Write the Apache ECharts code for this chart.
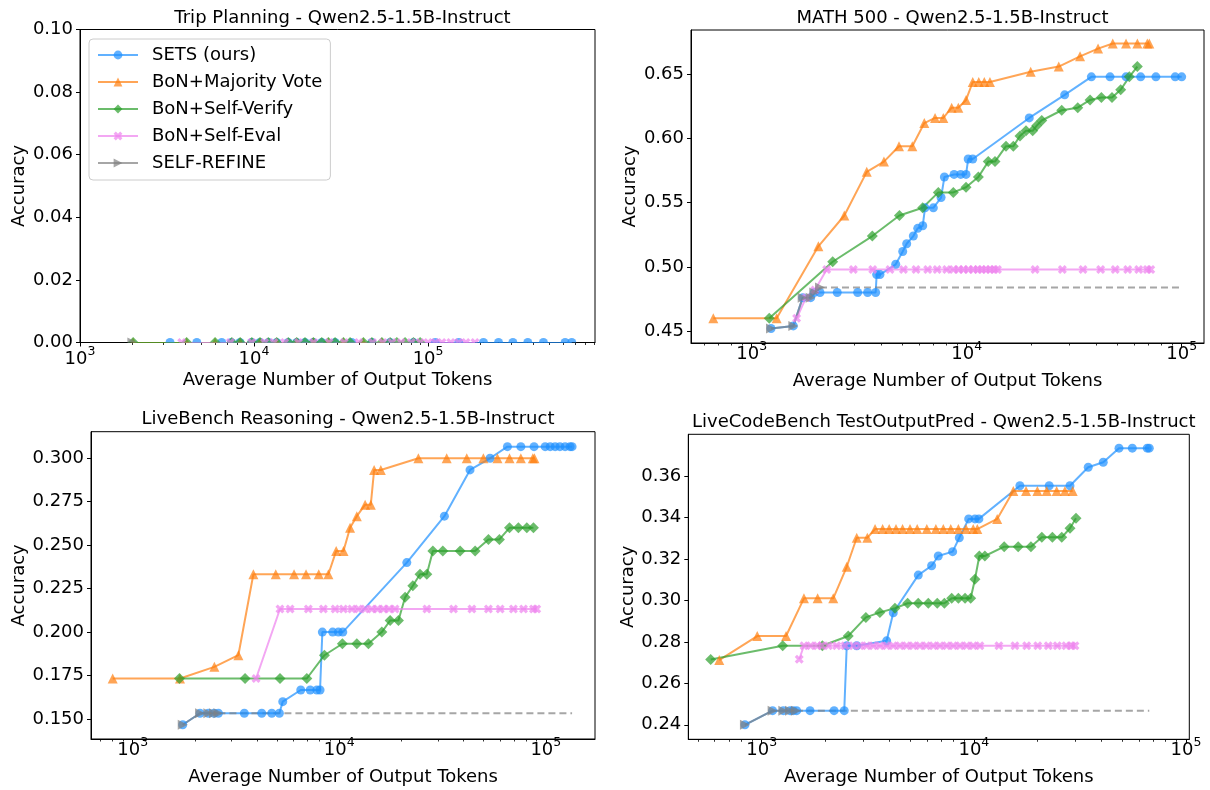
<!DOCTYPE html>
<html><head><meta charset="utf-8">
<script src="https://cdn.jsdelivr.net/npm/echarts@6/dist/echarts.min.js"></script>
<style>html,body{margin:0;padding:0;background:#fff}#c{width:1210px;height:790px}</style>
</head><body><div id="c"></div>
<script>
// ---------------- DATA ----------------
const seriesNames = ['SETS (ours)', 'BoN+Majority Vote', 'BoN+Self-Verify', 'BoN+Self-Eval', 'SELF-REFINE'];
const panelTitles = [
  'Trip Planning - Qwen2.5-1.5B-Instruct',
  'MATH 500 - Qwen2.5-1.5B-Instruct',
  'LiveBench Reasoning - Qwen2.5-1.5B-Instruct',
  'LiveCodeBench TestOutputPred - Qwen2.5-1.5B-Instruct'
];
const xAxisTitle = 'Average Number of Output Tokens';
const yAxisTitle = 'Accuracy';
const xTickValues = [1000, 10000, 100000];
const tripYTicks = [0, 0.02, 0.04, 0.06, 0.08, 0.10];
const mathYTicks = [0.45, 0.50, 0.55, 0.60, 0.65];
const lbYTicks = [0.150, 0.175, 0.200, 0.225, 0.250, 0.275, 0.300];
const lcbYTicks = [0.24, 0.26, 0.28, 0.30, 0.32, 0.34, 0.36];

// Trip Planning (all accuracies are 0)
const trip_sets = [[3290,0],[4690,0],[6520,0],[7400,0],[8300,0],[9700,0],[10800,0],[12100,0],[13500,0],[15700,0],[17600,0],[19600,0],[21900,0],[24500,0],[29200,0],[36400,0],[47500,0],[60500,0],[82400,0],[110000,0],[150000,0],[208000,0],[254000,0],[307000,0],[374000,0],[460000,0],[613000,0],[669000,0]];
const trip_majority = [[2020,0],[4100,0],[5970,0],[8320,0],[10820,0],[13490,0],[17580,0],[21920,0],[26740,0],[32630,0],[42500,0],[54250,0]];
const trip_verify = [[2020,0],[4100,0],[5970,0],[7450,0],[8320,0],[9710,0],[10820,0],[12080,0],[13490,0],[15730,0],[17580,0],[19630,0],[21920,0],[24490,0],[26740,0],[29220,0],[32630,0],[35620,0],[42500,0],[47520,0],[54250,0],[60540,0],[66120,0],[73760,0],[82400,0],[90000,0]];
const trip_eval = [[3840,0],[7300,0],[9700,0],[11500,0],[13000,0],[15000,0],[18000,0],[22000,0],[27000,0],[33000,0],[40000,0],[48000,0],[55000,0],[62000,0],[70000,0],[80000,0],[90000,0],[100000,0],[110000,0],[120000,0],[135000,0],[150000,0],[165000,0],[186000,0]];
const trip_refine = [[2000,0]];

// MATH 500
const math_sets = [[1230,0.452],[1562,0.454],[1727,0.476],[1880,0.476],[1954,0.480],[2078,0.480],[2500,0.480],[3111,0.480],[3461,0.480],[3772,0.480],[3813,0.494],[3950,0.494],[4677,0.502],[5040,0.512],[5260,0.518],[5647,0.524],[5919,0.530],[6245,0.532],[6400,0.546],[6997,0.546],[7600,0.554],[7876,0.570],[8737,0.572],[9380,0.572],[9932,0.572],[10160,0.584],[10670,0.584],[19540,0.616],[28560,0.634],[38010,0.648],[46430,0.648],[55100,0.648],[64440,0.648],[75880,0.648],[93300,0.648],[100000,0.648]];
const math_majority = [[663,0.460],[1306,0.460],[2042,0.516],[2697,0.540],[3429,0.574],[4123,0.582],[4842,0.594],[5585,0.594],[6353,0.612],[7126,0.616],[7787,0.616],[8513,0.624],[9143,0.624],[9932,0.630],[10670,0.644],[11380,0.644],[12080,0.644],[12830,0.644],[19850,0.652],[26800,0.656],[33670,0.664],[40830,0.670],[47800,0.674],[55100,0.674],[62200,0.674],[69200,0.674],[70700,0.674]];
const math_verify = [[1207,0.460],[2381,0.504],[3640,0.524],[4865,0.540],[6240,0.546],[7380,0.558],[8667,0.558],[9930,0.562],[11330,0.570],[12600,0.582],[13540,0.582],[15240,0.594],[16480,0.594],[17700,0.602],[18870,0.606],[20280,0.606],[21170,0.610],[22340,0.614],[27670,0.622],[32850,0.624],[37490,0.630],[42300,0.632],[47420,0.632],[52040,0.638],[57060,0.648],[62190,0.656]];
const math_eval = [[1618,0.460],[1790,0.476],[1968,0.482],[2233,0.498],[2970,0.498],[3656,0.498],[4398,0.498],[5080,0.498],[5810,0.498],[6590,0.498],[7290,0.498],[8070,0.498],[8670,0.498],[9180,0.498],[9660,0.498],[10180,0.498],[10740,0.498],[11270,0.498],[11750,0.498],[12300,0.498],[12850,0.498],[13400,0.498],[13900,0.498],[20800,0.498],[27860,0.498],[34750,0.498],[41980,0.498],[49090,0.498],[56100,0.498],[63100,0.498],[69200,0.498],[71800,0.498]];
const math_refine = [[1230,0.452],[1562,0.454],[1727,0.476],[1880,0.476],[1954,0.480],[2078,0.484]];

// LiveBench Reasoning
const lb_sets = [[1746,0.1467],[2118,0.1533],[2324,0.1533],[2476,0.1533],[2599,0.1533],[3470,0.1533],[4213,0.1533],[4711,0.1533],[5128,0.1533],[5325,0.1600],[6510,0.1667],[7230,0.1667],[7790,0.1667],[8070,0.1667],[8280,0.2000],[9290,0.2000],[9900,0.2000],[10400,0.2000],[21230,0.2400],[32280,0.2667],[42950,0.2933],[53700,0.3000],[65160,0.3067],[75690,0.3067],[87700,0.3067],[99300,0.3067],[105000,0.3067],[111000,0.3067],[117000,0.3067],[124000,0.3067],[131000,0.3067],[134000,0.3067]];
const lb_majority = [[800,0.1733],[1694,0.1733],[2484,0.1800],[3246,0.1867],[3838,0.2333],[4925,0.2333],[6040,0.2333],[6903,0.2333],[7954,0.2333],[8858,0.2333],[9660,0.2467],[10480,0.2467],[11280,0.2600],[12160,0.2667],[13340,0.2733],[14210,0.2733],[14750,0.2933],[15890,0.2933],[24150,0.3000],[33120,0.3000],[41400,0.3000],[49860,0.3000],[58300,0.3000],[66680,0.3000],[75690,0.3000],[86500,0.3000],[88100,0.3000]];
const lb_verify = [[1683,0.1733],[3499,0.1733],[5163,0.1733],[6965,0.1733],[8475,0.1867],[10350,0.1933],[12160,0.1933],[13840,0.1933],[16070,0.2000],[17630,0.2067],[19340,0.2067],[20830,0.2200],[22700,0.2267],[24600,0.2333],[26530,0.2333],[28380,0.2467],[31710,0.2467],[38460,0.2467],[45480,0.2467],[52740,0.2533],[59600,0.2533],[66680,0.2600],[73650,0.2600],[80900,0.2600],[87100,0.2600]];
const lb_eval = [[3955,0.1733],[5163,0.2133],[5780,0.2133],[7080,0.2133],[8375,0.2133],[9550,0.2133],[10470,0.2133],[11510,0.2133],[12390,0.2133],[13340,0.2133],[14350,0.2133],[15310,0.2133],[16370,0.2133],[17420,0.2133],[18620,0.2133],[26550,0.2133],[35730,0.2133],[43850,0.2133],[52720,0.2133],[60120,0.2133],[69660,0.2133],[77980,0.2133],[87100,0.2133],[90360,0.2133]];
const lb_refine = [[1746,0.1467],[2118,0.1533],[2324,0.1533],[2476,0.1533],[2599,0.1533]];

// LiveCodeBench TestOutputPred
const lcb_sets = [[834,0.2400],[1126,0.2468],[1265,0.2468],[1360,0.2468],[1408,0.2468],[1462,0.2468],[1690,0.2468],[2194,0.2468],[2450,0.2468],[2517,0.2781],[2806,0.2781],[3882,0.2805],[4170,0.2940],[5470,0.3122],[6324,0.3167],[6797,0.3214],[7944,0.3235],[8537,0.3302],[9453,0.3393],[10120,0.3393],[10560,0.3393],[16480,0.3553],[22650,0.3553],[28380,0.3553],[34590,0.3642],[40720,0.3666],[48310,0.3734],[55820,0.3734],[65620,0.3734],[67100,0.3734]];
const lcb_majority = [[631,0.2712],[953,0.2828],[1303,0.2828],[1582,0.3010],[1835,0.3010],[2175,0.3010],[2517,0.3162],[2805,0.3302],[3147,0.3302],[3422,0.3344],[3715,0.3344],[3990,0.3344],[4295,0.3344],[4613,0.3344],[5000,0.3344],[5408,0.3344],[6000,0.3344],[6622,0.3344],[7178,0.3344],[7780,0.3344],[8453,0.3344],[9183,0.3344],[9931,0.3344],[10380,0.3344],[12880,0.3393],[15340,0.3528],[17620,0.3528],[19920,0.3528],[22040,0.3528],[24560,0.3528],[26860,0.3528],[29220,0.3528]];
const lcb_verify = [[575,0.2715],[1256,0.2781],[1932,0.2781],[2559,0.2828],[3098,0.2918],[3607,0.2942],[4246,0.2962],[4875,0.2986],[5470,0.2986],[6100,0.2986],[6722,0.2986],[7260,0.2986],[7860,0.3010],[8453,0.3010],[9087,0.3010],[9662,0.3010],[10120,0.3102],[10610,0.3214],[11270,0.3214],[13900,0.3259],[16180,0.3259],[18580,0.3259],[20900,0.3304],[23450,0.3304],[25960,0.3304],[28380,0.3348],[30290,0.3396]];
const lcb_eval = [[1503,0.2716],[1582,0.2781],[1702,0.2781],[1829,0.2781],[1918,0.2781],[2061,0.2781],[2256,0.2781],[2470,0.2781],[2703,0.2781],[2905,0.2781],[3124,0.2781],[3358,0.2781],[3609,0.2781],[3879,0.2781],[4169,0.2781],[4483,0.2781],[4818,0.2781],[5177,0.2781],[5566,0.2781],[5975,0.2781],[6442,0.2781],[6918,0.2781],[7445,0.2781],[8000,0.2781],[8604,0.2781],[9247,0.2781],[9937,0.2781],[10680,0.2781],[13120,0.2781],[15620,0.2781],[17740,0.2781],[20000,0.2781],[22430,0.2781],[24730,0.2781],[27190,0.2781],[28900,0.2781],[29950,0.2781]];
const lcb_refine = [[834,0.2400],[1126,0.2468],[1265,0.2468],[1360,0.2468],[1449,0.2468]];

// ---------------- LAYOUT / STYLE ----------------
const FONT = 'DejaVu Sans';
const COLORS = ['#1E90FF', '#FF7F0E', '#2CA02C', '#EE82EE', '#808080'];
const XPATH = 'path://M0,2.5L2.5,0L5,2.5L7.5,0L10,2.5L7.5,5L10,7.5L7.5,10L5,7.5L2.5,10L0,7.5L2.5,5Z';
const SYMBOLS = ['circle', 'triangle', 'diamond', XPATH, 'triangle'];
const SYM_SIZE = [9, 10, 11, 9, 10];
const SYM_ROT = [0, 0, 0, 0, -90];
// Upper halves of the markers (points lying on the bottom edge are clipped by the axes box)
const HALF_SYMBOLS = [
  'path://M0,10A10,10,0,0,1,20,10Z',
  'path://M5,0L10,10L0,10Z',
  'path://M5,0L10,10L0,10Z',
  'path://M0,2.5L2.5,0L5,2.5L7.5,0L10,2.5L7.5,5L2.5,5Z',
  'path://M0,0L10,5L0,5Z'
];
const HALF_SIZE = [[9, 4.5], [5, 5], [11, 5.5], [9, 4.5], [10, 5]];

const panels = [
  { grid: {left: 80, top: 29.5, width: 515, height: 313}, xMin: 1000, xMax: 910000,
    yMin: 0, yMax: 0.1, yTicks: tripYTicks, yDec: 2, yNameGap: 52, titleTop: 4, labelMargin: 8,
    data: [trip_sets, trip_majority, trip_verify, trip_eval, trip_refine], dashed: false, half: true },
  { grid: {left: 691, top: 30, width: 513, height: 313}, xMin: 522, xMax: 127000,
    yMin: 0.4407, yMax: 0.6845, yTicks: mathYTicks, yDec: 2, yNameGap: 52, titleTop: 4, labelMargin: 2,
    data: [math_sets, math_majority, math_verify, math_eval, math_refine], dashed: true },
  { grid: {left: 91, top: 431.7, width: 504, height: 307.3}, xMin: 628, xMax: 173000,
    yMin: 0.1385, yMax: 0.3153, yTicks: lbYTicks, yDec: 3, yNameGap: 63, titleTop: 405, labelMargin: 2,
    data: [lb_sets, lb_majority, lb_verify, lb_eval, lb_refine], dashed: true },
  { grid: {left: 688.3, top: 434.3, width: 501, height: 305}, xMin: 451, xMax: 103600,
    yMin: 0.2330, yMax: 0.3801, yTicks: lcbYTicks, yDec: 2, yNameGap: 50, titleTop: 408, labelMargin: 2,
    data: [lcb_sets, lcb_majority, lcb_verify, lcb_eval, lcb_refine], dashed: true }
];

function minorTicks(min, max) {
  const out = [];
  for (let e = Math.floor(Math.log10(min)); e <= Math.ceil(Math.log10(max)); e++) {
    for (let k = 2; k <= 9; k++) {
      const v = k * Math.pow(10, e);
      if (v >= min && v <= max) out.push(v);
    }
  }
  return out;
}

const textBase = {fontFamily: FONT, color: '#000'};
const grids = [], xAxes = [], yAxes = [], titles = [];
const seriesMain = [], seriesLast = [];

panels.forEach((p, i) => {
  grids.push(Object.assign({show: true, borderColor: '#000', borderWidth: 1, containLabel: false}, p.grid));
  titles.push({
    text: panelTitles[i], left: p.grid.left + p.grid.width / 2, top: p.titleTop, textAlign: 'center',
    textStyle: Object.assign({fontSize: 18, fontWeight: 'normal'}, textBase)
  });
  xAxes.push({
    type: 'log', logBase: 10, gridIndex: i, min: p.xMin, max: p.xMax, position: 'bottom',
    axisLine: {show: true, onZero: false, lineStyle: {color: '#000', width: 1}},
    axisTick: {show: true, length: 4, customValues: xTickValues, lineStyle: {color: '#000', width: 1}},
    axisLabel: {
      customValues: xTickValues, margin: p.labelMargin, hideOverlap: false,
      formatter: v => '{b|10}{s|' + Math.round(Math.log10(v)) + '}',
      rich: {
        b: Object.assign({fontSize: 18, lineHeight: 18, verticalAlign: 'bottom'}, textBase),
        s: Object.assign({fontSize: 12.5, lineHeight: 12, padding: [0, 0, 10, 0], verticalAlign: 'bottom'}, textBase)
      }
    },
    splitLine: {show: false},
    name: xAxisTitle, nameLocation: 'middle', nameGap: 29,
    nameTextStyle: Object.assign({fontSize: 18, verticalAlign: 'top'}, textBase)
  });
  xAxes.push({
    type: 'log', logBase: 10, gridIndex: i, min: p.xMin, max: p.xMax, position: 'bottom',
    axisLine: {show: false, onZero: false},
    axisTick: {show: true, length: 2.5, customValues: minorTicks(p.xMin, p.xMax), lineStyle: {color: '#000', width: 0.8}},
    axisLabel: {show: false},
    splitLine: {show: false}
  });
  yAxes.push({
    type: 'value', gridIndex: i, min: p.yMin, max: p.yMax,
    axisLine: {show: true, onZero: false, lineStyle: {color: '#000', width: 1}},
    axisTick: {show: true, length: 4, customValues: p.yTicks, lineStyle: {color: '#000', width: 1}},
    axisLabel: Object.assign({customValues: p.yTicks, margin: 7, fontSize: 18, hideOverlap: false,
      formatter: v => v.toFixed(p.yDec)}, textBase),
    splitLine: {show: false},
    name: yAxisTitle, nameLocation: 'middle', nameGap: p.yNameGap,
    nameTextStyle: Object.assign({fontSize: 18}, textBase)
  });
  const target = p.half ? seriesLast : seriesMain;
  p.data.forEach((d, s) => {
    target.push({
      type: 'line', name: seriesNames[s], xAxisIndex: 2 * i, yAxisIndex: i, data: d,
      symbol: p.half ? HALF_SYMBOLS[s] : SYMBOLS[s],
      symbolSize: p.half ? HALF_SIZE[s] : SYM_SIZE[s],
      symbolOffset: p.half ? [0, -HALF_SIZE[s][1] / 2] : [0, 0],
      symbolRotate: p.half ? 0 : SYM_ROT[s], showSymbol: true,
      lineStyle: {color: COLORS[s], width: p.half ? 1 : 2, opacity: 0.7},
      itemStyle: {color: COLORS[s], opacity: 0.7, borderWidth: 0},
      emphasis: {disabled: true}, silent: true, animation: false
    });
  });
  if (p.dashed) {
    const ref = p.data[4];
    const last = ref[ref.length - 1];
    const sets = p.data[0];
    const maxX = sets[sets.length - 1][0];
    target.push({
      type: 'line', name: 'SELF-REFINE (extension)', xAxisIndex: 2 * i, yAxisIndex: i,
      data: [[last[0], last[1]], [maxX, last[1]]], symbol: 'none',
      lineStyle: {color: '#808080', width: 2, type: [7, 4], opacity: 0.7},
      emphasis: {disabled: true}, silent: true, animation: false
    });
  }
});

const chart = echarts.init(document.getElementById('c'), null, {renderer: 'canvas'});
chart.setOption({
  animation: false,
  backgroundColor: '#fff',
  title: titles,
  grid: grids,
  xAxis: xAxes,
  yAxis: yAxes,
  legend: {
    data: seriesNames, left: 89, top: 39, orient: 'vertical',
    padding: [7, 8, 8, 8], itemWidth: 40, itemHeight: 11, itemGap: 9,
    textStyle: Object.assign({fontSize: 18, padding: [0, 0, 0, 9]}, textBase),
    borderColor: '#cccccc', borderWidth: 1, borderRadius: 4,
    backgroundColor: 'rgba(255,255,255,0.8)', selectedMode: false
  },
  series: seriesMain.concat(seriesLast)
});
</script>
</body></html>
